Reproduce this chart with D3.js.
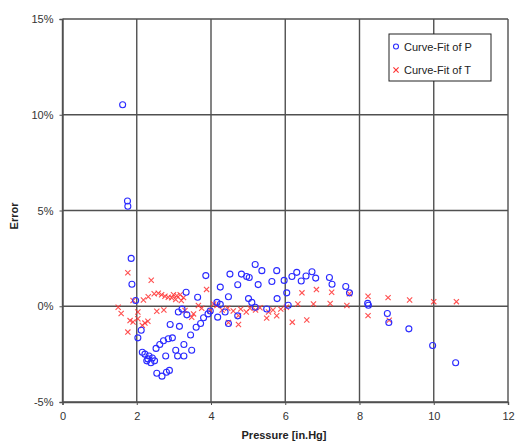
<!DOCTYPE html>
<html><head><meta charset="utf-8">
<script src="https://cdn.jsdelivr.net/npm/d3@7"></script>
<style>body{margin:0;background:#fff}svg{display:block}text{font-family:"Liberation Sans",Arial,sans-serif}</style>
</head><body><svg id="c" width="516" height="444"></svg>
<script>
const xTicks=[0,2,4,6,8,10,12];
const yTicks=[-5,0,5,10,15];
const seriesNames=["Curve-Fit of P","Curve-Fit of T"];
const pX=[1.62,1.75,1.76,1.85,1.87,1.97,2.03,2.12,2.15,2.22,2.27,2.33,2.38,2.42,2.30,2.48,2.52,2.54,2.68,2.80,2.88,2.62,2.72,2.78,2.85,2.96,2.90,3.15,3.05,3.10,3.27,3.27,3.48,3.45,3.60,3.72,3.80,3.12,3.22,3.33,3.35,3.64,3.86,3.92,3.98,4.16,4.18,4.25,4.25,4.38,4.51,4.47,4.47,4.72,4.72,4.82,4.96,5.03,5.01,5.10,5.19,5.19,5.27,5.37,5.50,5.64,5.77,5.78,5.97,6.04,6.08,6.18,6.31,6.43,6.56,6.72,6.82,7.19,7.26,7.63,7.73,8.22,8.24,8.75,8.79,9.33,9.97,10.59];
const pY=[10.52,5.5,5.22,2.5,1.15,0.3,-1.65,-1.25,-2.4,-2.5,-2.85,-2.6,-2.95,-2.7,-2.75,-2.85,-2.2,-3.5,-3.65,-3.45,-3.35,-2.0,-1.8,-2.6,-1.7,-1.65,-0.95,-1.05,-2.3,-2.6,-2.6,-2.0,-2.3,-1.5,-1.1,-0.9,-0.6,-0.3,-0.15,0.73,-0.45,0.47,1.6,-0.4,-0.25,0.2,-0.57,1.0,0.1,-0.3,1.68,0.5,-0.9,1.12,-0.5,1.68,1.55,1.5,0.4,0.2,2.18,-0.05,1.13,1.86,-0.14,1.29,1.86,0.4,1.35,0.7,0.05,1.55,1.77,1.32,1.58,1.8,1.47,1.5,1.15,1.03,0.7,0.15,0.05,-0.38,-0.85,-1.18,-2.05,-2.95];
const tX=[1.50,1.58,1.76,1.76,1.82,1.90,1.90,2.03,2.03,2.15,2.22,2.30,2.18,2.31,2.39,2.47,2.58,2.67,2.76,2.85,2.94,2.99,3.08,3.17,3.26,3.20,3.05,2.54,2.73,3.30,3.48,3.53,3.66,3.75,3.88,3.98,4.07,4.16,4.30,4.45,4.47,4.60,4.74,4.74,4.80,4.95,5.05,5.20,5.32,5.50,5.55,5.67,5.77,5.88,6.03,6.19,6.34,6.45,6.58,6.76,6.84,7.21,7.25,7.66,7.73,8.23,8.23,8.77,8.80,9.35,10.0,10.61];
const tY=[-0.05,-0.38,1.75,-1.35,-0.75,-0.82,0.3,-0.65,-0.3,-1.0,-0.88,-0.78,0.33,0.5,1.36,0.65,0.68,0.6,0.52,0.47,0.44,0.6,0.55,0.6,0.45,0.3,0.35,-0.26,-0.2,-0.22,-0.57,-0.4,0.04,-0.1,0.88,-0.22,0.12,0.04,-0.2,-0.1,-0.85,-0.25,-0.49,-0.95,-0.15,-0.3,-0.1,-0.2,-0.08,-0.62,-0.3,-0.2,-0.5,-0.15,-0.05,-0.83,0.12,0.7,-0.72,0.12,0.87,0.14,0.73,0.04,0.65,0.52,-0.49,0.45,-0.73,0.33,0.24,0.24];

const svg=d3.select("#c");
const L=62.5,R=508,T=19,B=402;
const x=d3.scaleLinear().domain([0,12]).range([L,R]);
const y=d3.scaleLinear().domain([-5,15]).range([B,T]);
const gridCol="#505050";
// grid
svg.append("g").selectAll("line").data(xTicks).join("line")
 .attr("x1",d=>x(d)).attr("x2",d=>x(d)).attr("y1",T).attr("y2",B)
 .attr("stroke",gridCol).attr("stroke-width",1.4);
svg.append("g").selectAll("line").data(yTicks).join("line")
 .attr("y1",d=>y(d)).attr("y2",d=>y(d)).attr("x1",L).attr("x2",R)
 .attr("stroke",gridCol).attr("stroke-width",1.4);
// axes
const xa=svg.append("g").attr("transform",`translate(0,${B})`)
 .call(d3.axisBottom(x).tickValues(xTicks).tickSize(3).tickPadding(7).tickFormat(d3.format("d")));
const ya=svg.append("g").attr("transform",`translate(${L},0)`)
 .call(d3.axisLeft(y).tickValues(yTicks).tickSize(3).tickPadding(6).tickFormat(d=>d+"%"));
[xa,ya].forEach(a=>{a.select(".domain").attr("stroke",gridCol).attr("stroke-width",1.4);
 a.selectAll(".tick line").attr("stroke",gridCol);
 a.selectAll("text").attr("font-size",11).attr("fill","#333").attr("font-family","Liberation Sans, Arial, sans-serif");});
// T series crosses
const tData=tX.map((v,i)=>[v,tY[i]]);
const pData=pX.map((v,i)=>[v,pY[i]]);
const s=2.6;
svg.append("g").selectAll("path").data(tData).join("path")
 .attr("d",d=>{const cx=x(d[0]),cy=y(d[1]);return `M${cx-s},${cy-s}L${cx+s},${cy+s}M${cx-s},${cy+s}L${cx+s},${cy-s}`;})
 .attr("stroke","#ff3030").attr("stroke-width",1.1).attr("fill","none").attr("opacity",0.85);
svg.append("g").selectAll("circle").data(pData).join("circle")
 .attr("cx",d=>x(d[0])).attr("cy",d=>y(d[1])).attr("r",3)
 .attr("fill","none").attr("stroke","#2a2aff").attr("stroke-width",1.1);
// legend
const lg=svg.append("g");
lg.append("rect").attr("x",389).attr("y",34).attr("width",102).attr("height",47)
 .attr("fill","#fff").attr("stroke","#222").attr("stroke-width",1);
lg.append("circle").attr("cx",396).attr("cy",46.5).attr("r",2.5).attr("fill","none").attr("stroke","#2a2aff").attr("stroke-width",1.1);
lg.append("path").attr("d",`M${396-s},${70-s}L${396+s},${70+s}M${396-s},${70+s}L${396+s},${70-s}`)
 .attr("stroke","#ff3030").attr("stroke-width",1.1);
lg.selectAll("text").data(seriesNames).join("text")
 .attr("x",404).attr("y",(d,i)=>50.5+i*23.5).attr("font-size",11).attr("fill","#222").text(d=>d);
// axis titles
svg.append("text").attr("x",284).attr("y",439).attr("text-anchor","middle")
 .attr("font-size",11).attr("font-weight","bold").attr("fill","#222").text("Pressure [in.Hg]");
svg.append("text").attr("transform","translate(18,216) rotate(-90)").attr("text-anchor","middle")
 .attr("font-size",11).attr("font-weight","bold").attr("fill","#222").text("Error");
</script></body></html>
